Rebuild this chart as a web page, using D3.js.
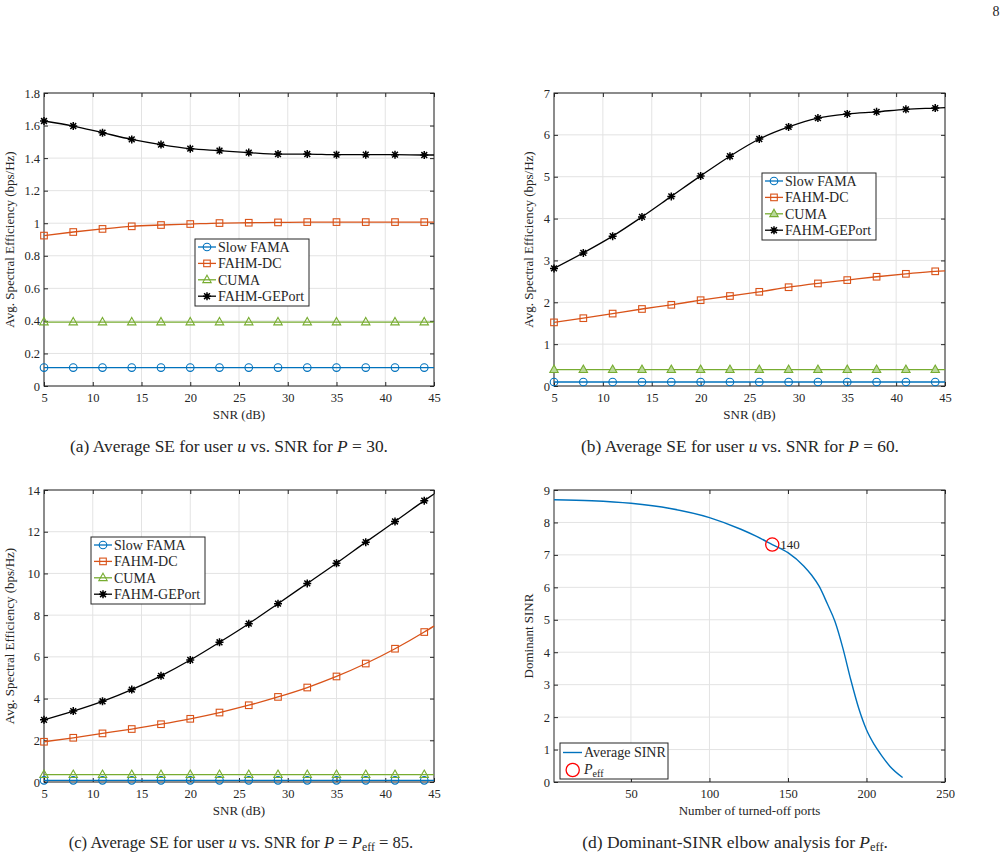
<!DOCTYPE html>
<html>
<head>
<meta charset="utf-8">
<script src="https://cdn.jsdelivr.net/npm/d3@7"></script>
<style>
body { margin: 0; background: #fff; }
svg text { font-family: "Liberation Serif", "Times New Roman", serif; fill: #262626; }
</style>
</head>
<body>
<script>
// SNR grid (last point is the line end at 45 dB, drawn without a marker)
var snr = [5, 8, 11, 14, 17, 20, 23, 26, 29, 32, 35, 38, 41, 44, 45];

// (a) P = 30
var aSlow = [0.113, 0.113, 0.113, 0.113, 0.113, 0.113, 0.113, 0.113, 0.113, 0.113, 0.113, 0.113, 0.113, 0.113, 0.113];
var aDC = [0.924, 0.946, 0.965, 0.981, 0.989, 0.995, 1.001, 1.003, 1.005, 1.007, 1.007, 1.007, 1.007, 1.007, 1.007];
var aCUMA = [0.393, 0.393, 0.393, 0.393, 0.393, 0.393, 0.393, 0.393, 0.393, 0.393, 0.393, 0.393, 0.393, 0.393, 0.393];
var aGE = [1.628, 1.597, 1.556, 1.515, 1.483, 1.458, 1.446, 1.434, 1.425, 1.425, 1.421, 1.421, 1.421, 1.419, 1.419];

// (b) P = 60
var bSlow = [0.096, 0.096, 0.096, 0.096, 0.096, 0.096, 0.096, 0.096, 0.096, 0.096, 0.096, 0.096, 0.096, 0.096, 0.096];
var bDC = [1.52, 1.62, 1.73, 1.84, 1.94, 2.05, 2.15, 2.25, 2.36, 2.45, 2.53, 2.61, 2.68, 2.74, 2.75];
var bCUMA = [0.39, 0.39, 0.39, 0.39, 0.39, 0.39, 0.39, 0.39, 0.39, 0.39, 0.39, 0.39, 0.39, 0.39, 0.39];
var bGE = [2.81, 3.18, 3.58, 4.04, 4.53, 5.02, 5.49, 5.90, 6.19, 6.40, 6.50, 6.55, 6.61, 6.64, 6.65];

// (c) P = Peff = 85
var cSlow = [0.08, 0.08, 0.08, 0.08, 0.08, 0.08, 0.08, 0.08, 0.08, 0.08, 0.08, 0.08, 0.08, 0.08, 0.08];
var cDC = [1.93, 2.12, 2.33, 2.54, 2.77, 3.03, 3.33, 3.68, 4.08, 4.53, 5.06, 5.68, 6.39, 7.19, 7.48];
var cCUMA = [0.35, 0.35, 0.35, 0.35, 0.35, 0.35, 0.35, 0.35, 0.35, 0.35, 0.35, 0.35, 0.35, 0.35, 0.35];
var cGE = [2.98, 3.40, 3.87, 4.43, 5.09, 5.85, 6.70, 7.59, 8.55, 9.52, 10.49, 11.50, 12.49, 13.49, 13.81];

// (d) dominant SINR vs turned-off ports
var ports = [1, 25, 50, 75, 100, 120, 130, 140, 150, 160, 165, 170, 175, 180, 185, 190, 195, 200, 205, 210, 215, 223];
var sinr = [8.70, 8.67, 8.59, 8.43, 8.15, 7.79, 7.57, 7.32, 7.07, 6.66, 6.38, 6.02, 5.50, 4.94, 4.12, 3.15, 2.28, 1.61, 1.15, 0.79, 0.48, 0.14];
var pEff = {x: 140, y: 7.32};

var seriesNames = ['Slow FAMA', 'FAHM-DC', 'CUMA', 'FAHM-GEPort'];
var seriesColors = ['#0072BD', '#D95319', '#77AC30', '#000000'];
var snrTicks = [5, 10, 15, 20, 25, 30, 35, 40, 45];

const WIDTH = 1006;
const HEIGHT = 857;
const AXIS = '#262626';
const GRID = '#e3e3e3';

var svg = d3.select('body').append('svg')
	.attr('width', WIDTH)
	.attr('height', HEIGHT);

var translate = function(x, y){
	return "translate(" + x + "," + y + ")";
};

var fmt = function(d){ return String(+d.toFixed(1)); };

// draw a marker of the given kind into group g
var drawMarker = function(g, kind, color, fill){
	if (kind == 'circle') {
		g.append('circle').attr('r', 3.8).attr('fill', 'none').attr('stroke', color).attr('stroke-width', 1.1);
	} else if (kind == 'square') {
		g.append('rect').attr('x', -3.3).attr('y', -3.3).attr('width', 6.6).attr('height', 6.6)
			.attr('fill', 'none').attr('stroke', color).attr('stroke-width', 1.1);
	} else if (kind == 'triangle') {
		g.append('path').attr('d', 'M0,-4.6L4.2,2.8L-4.2,2.8Z')
			.attr('fill', fill || 'none').attr('stroke', color).attr('stroke-width', 1.1);
	} else if (kind == 'star') {
		g.append('path').attr('d', 'M-4,0H4M0,-4V4M-2.9,-2.9L2.9,2.9M-2.9,2.9L2.9,-2.9')
			.attr('stroke', color).attr('stroke-width', 1.5);
	}
};

var markerKinds = ['circle', 'square', 'triangle', 'star'];

// axes frame, grid, ticks; returns scales
var drawFrame = function(p){
	var x = d3.scaleLinear().domain(p.xDomain).range([0, p.w]);
	var y = d3.scaleLinear().domain(p.yDomain).range([p.h, 0]);
	var g = svg.append('g').attr('transform', translate(p.left, p.top));

	g.append('g').selectAll('line').data(p.xTicks).enter().append('line')
		.attr('x1', x).attr('x2', x).attr('y1', 0).attr('y2', p.h)
		.attr('stroke', GRID);
	g.append('g').selectAll('line').data(p.yTicks).enter().append('line')
		.attr('y1', y).attr('y2', y).attr('x1', 0).attr('x2', p.w)
		.attr('stroke', GRID);

	var xAxis = d3.axisBottom(x).tickValues(p.xTicks).tickSize(-4).tickPadding(7).tickFormat(fmt);
	var yAxis = d3.axisLeft(y).tickValues(p.yTicks).tickSize(-4).tickPadding(4).tickFormat(fmt);
	var xTop = d3.axisTop(x).tickValues(p.xTicks).tickSize(-4).tickFormat('');
	var yRight = d3.axisRight(y).tickValues(p.yTicks).tickSize(-4).tickFormat('');

	[g.append('g').attr('transform', translate(0, p.h)).call(xAxis),
	 g.append('g').call(yAxis),
	 g.append('g').call(xTop),
	 g.append('g').attr('transform', translate(p.w, 0)).call(yRight)].forEach(function(a){
		a.select('.domain').remove();
		a.selectAll('line').attr('stroke', AXIS);
		a.selectAll('text').attr('font-size', 12.5).attr('fill', AXIS)
			.style('font-family', '"Liberation Serif", serif');
	});

	g.append('rect').attr('width', p.w).attr('height', p.h)
		.attr('fill', 'none').attr('stroke', AXIS).attr('stroke-width', 1);

	g.append('text').attr('x', p.w / 2).attr('y', p.h + 33)
		.attr('text-anchor', 'middle').attr('font-size', 13).text(p.xLabel);
	g.append('text').attr('transform', translate(p.yLabelX, p.h / 2) + ' rotate(-90)')
		.attr('text-anchor', 'middle').attr('font-size', 13).text(p.yLabel);

	return {g: g, x: x, y: y};
};

var drawSE = function(p, data){
	var f = drawFrame(p);
	var line = d3.line()
		.x(function(d, i){ return f.x(snr[i]); })
		.y(function(d){ return f.y(d); })
		.curve(d3.curveMonotoneX);
	data.forEach(function(vals, k){
		f.g.append('path').attr('d', line(vals))
			.attr('fill', 'none').attr('stroke', seriesColors[k]).attr('stroke-width', 1.3);
		vals.slice(0, snr.length - 1).forEach(function(v, i){
			var m = f.g.append('g').attr('transform', translate(f.x(snr[i]), f.y(v)));
			drawMarker(m, markerKinds[k], seriesColors[k], k == 2 ? p.triFill : null);
		});
	});

	// legend
	var lg = svg.append('g').attr('transform', translate(p.legend[0], p.legend[1]));
	lg.append('rect').attr('width', 114).attr('height', 67)
		.attr('fill', '#fff').attr('stroke', AXIS).attr('stroke-width', 1);
	seriesNames.forEach(function(name, k){
		var yy = 8 + k * 16.4;
		lg.append('line').attr('x1', 3).attr('x2', 21).attr('y1', yy).attr('y2', yy)
			.attr('stroke', seriesColors[k]).attr('stroke-width', 1.3);
		drawMarker(lg.append('g').attr('transform', translate(12, yy)), markerKinds[k], seriesColors[k], k == 2 ? p.triFill : null);
		lg.append('text').attr('x', 23).attr('y', yy).attr('dy', '0.35em')
			.attr('font-size', 14).attr('fill', '#000').text(name);
	});
};

var seLabel = 'Avg. Spectral Efficiency (bps/Hz)';

drawSE({left: 44, top: 93, w: 390, h: 293, xDomain: [5, 45], yDomain: [0, 1.8],
	xTicks: snrTicks, yTicks: d3.range(0, 1.81, 0.2), xLabel: 'SNR (dB)', yLabel: seLabel,
	yLabelX: -30, legend: [195, 239]}, [aSlow, aDC, aCUMA, aGE]);

drawSE({left: 554, top: 93, w: 391, h: 293, xDomain: [5, 45], yDomain: [0, 7],
	xTicks: snrTicks, yTicks: d3.range(0, 8), xLabel: 'SNR (dB)', yLabel: seLabel,
	yLabelX: -21, legend: [762, 173], triFill: '#b9d89a'}, [bSlow, bDC, bCUMA, bGE]);

drawSE({left: 44, top: 490, w: 390, h: 292, xDomain: [5, 45], yDomain: [0, 14],
	xTicks: snrTicks, yTicks: d3.range(0, 15, 2), xLabel: 'SNR (dB)', yLabel: seLabel,
	yLabelX: -30, legend: [91, 537]}, [cSlow, cDC, cCUMA, cGE]);

// (d)
var d = drawFrame({left: 554, top: 490, w: 391, h: 292, xDomain: [1, 250], yDomain: [0, 9],
	xTicks: [50, 100, 150, 200, 250], yTicks: d3.range(0, 10), xLabel: 'Number of turned-off ports',
	yLabel: 'Dominant SINR', yLabelX: -21});
var sinrLine = d3.line()
	.x(function(v, i){ return d.x(ports[i]); })
	.y(function(v){ return d.y(v); })
	.curve(d3.curveMonotoneX);
d.g.append('path').attr('d', sinrLine(sinr))
	.attr('fill', 'none').attr('stroke', '#0072BD').attr('stroke-width', 1.4);
d.g.append('circle').attr('cx', d.x(pEff.x)).attr('cy', d.y(pEff.y)).attr('r', 6.6)
	.attr('fill', 'none').attr('stroke', '#ff0000').attr('stroke-width', 1.3);
d.g.append('text').attr('x', d.x(pEff.x) + 8).attr('y', d.y(pEff.y)).attr('dy', '0.35em')
	.attr('font-size', 13).attr('fill', '#000').text(pEff.x);

var dl = svg.append('g').attr('transform', translate(560, 743));
dl.append('rect').attr('width', 108).attr('height', 36)
	.attr('fill', '#fff').attr('stroke', AXIS);
dl.append('line').attr('x1', 3).attr('x2', 22).attr('y1', 9.5).attr('y2', 9.5)
	.attr('stroke', '#0072BD').attr('stroke-width', 1.4);
dl.append('text').attr('x', 24).attr('y', 9.5).attr('dy', '0.35em').attr('font-size', 14)
	.attr('fill', '#000').text('Average SINR');
dl.append('circle').attr('cx', 12.7).attr('cy', 27).attr('r', 6.6)
	.attr('fill', 'none').attr('stroke', '#ff0000').attr('stroke-width', 1.3);
var pt = dl.append('text').attr('x', 24).attr('y', 26).attr('dy', '0.35em').attr('font-size', 14).attr('fill', '#000');
pt.append('tspan').attr('font-style', 'italic').text('P');
pt.append('tspan').attr('font-size', 10).attr('dy', 3).text('eff');

// captions, squeezed horizontally like the source typesetting
var caption = function(cx, cy, len, parts){
	var g = svg.append('g');
	var t = g.append('text').attr('x', 0).attr('y', 0).attr('text-anchor', 'middle')
		.attr('font-size', 17).attr('fill', '#000');
	parts.forEach(function(p){
		var s = t.append('tspan').text(p[0]);
		if (p[1] == 'i') s.attr('font-style', 'italic');
		if (p[1] == 'sub') s.attr('font-size', 12).attr('dy', 3);
		if (p[1] == 'up') s.attr('dy', -3);
	});
	var natural = t.node().getComputedTextLength();
	g.attr('transform', translate(cx, cy) + ' scale(' + (len / natural) + ',1)');
};
caption(229, 452, 318, [['(a) Average SE for user '], ['u', 'i'], [' vs. SNR for '], ['P', 'i'], [' = 30.']]);
caption(740, 452, 318, [['(b) Average SE for user '], ['u', 'i'], [' vs. SNR for '], ['P', 'i'], [' = 60.']]);
caption(241, 848, 345, [['(c) Average SE for user '], ['u', 'i'], [' vs. SNR for '], ['P', 'i'], [' = '], ['P', 'i'], ['eff', 'sub'], [' = 85.', 'up']]);
caption(735, 848, 306, [['(d) Dominant-SINR elbow analysis for '], ['P', 'i'], ['eff', 'sub'], ['.', 'up']]);

svg.append('text').attr('x', 996).attr('y', 16).attr('text-anchor', 'middle')
	.attr('font-size', 14).attr('fill', '#000').text('8');
</script>
</body>
</html>
